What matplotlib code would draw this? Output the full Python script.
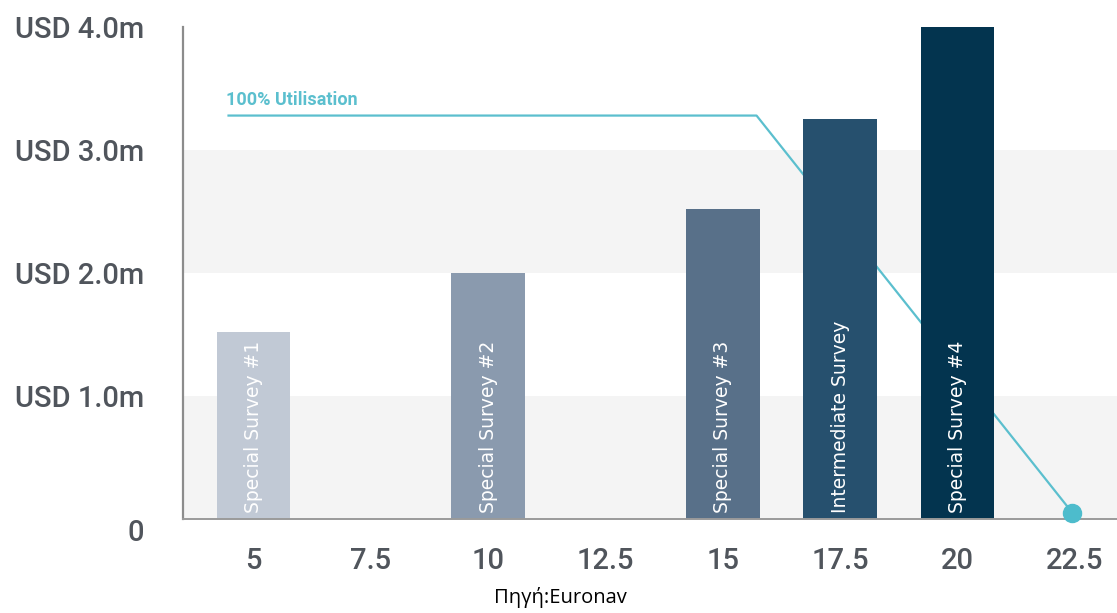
import matplotlib
matplotlib.use("Agg")
import matplotlib.pyplot as plt

# =========================
# DATA
# =========================
ages = [5, 10, 15, 17.5, 20]
costs = [1.52, 2.0, 2.52, 3.25, 4.0]
surveys = ["Special Survey #1", "Special Survey #2", "Special Survey #3",
           "Intermediate Survey", "Special Survey #4"]
bar_colors = ["#c1c9d5", "#8a9aae", "#587089", "#26506e", "#03344f"]

util_x = [4.47, 15.72, 22.45]
util_y = [3.28, 3.28, 0.05]

x_ticks = [5, 7.5, 10, 12.5, 15, 17.5, 20, 22.5]
y_ticks = [0, 1, 2, 3, 4]
y_labels = ["0", "USD 1.0m", "USD 2.0m", "USD 3.0m", "USD 4.0m"]

# =========================
# FIGURE
# =========================
fig = plt.figure(figsize=(11.17, 6.13), dpi=100)
ax = fig.add_axes([183 / 1117, 94 / 613, 1 - 183 / 1117, 492 / 613])

ax.set_xlim(3.5, 23.4)
ax.set_ylim(0, 4.0)

# light bands behind the bars
ax.axhspan(0, 1, color="#f4f4f4", zorder=0, lw=0)
ax.axhspan(2, 3, color="#f4f4f4", zorder=0, lw=0)

ax.bar(ages, costs, width=1.57, color=bar_colors, zorder=2)

for x, label in zip(ages, surveys):
    ax.text(x, 0.05, label, rotation=90, ha="center", va="bottom",
            color="white", fontsize=13.5,
            family=["Liberation Sans Narrow", "DejaVu Sans"], zorder=3)

# utilisation line runs behind the bars, end dot on top
ax.plot(util_x, util_y, color="#5bbfce", lw=1.6, zorder=1, clip_on=False)
ax.plot(util_x[-1], util_y[-1], "o", color="#4dbccc", ms=13, zorder=5,
        clip_on=False)
ax.text(util_x[0] - 0.05, util_y[0] + 0.05, "100% Utilisation",
        color="#5bbfce", fontsize=13, fontweight="bold", family="Roboto",
        ha="left", va="bottom")

# =========================
# AXES STYLE
# =========================
for side in ["top", "right"]:
    ax.spines[side].set_visible(False)
ax.spines["left"].set_color("#8c8c8c")
ax.spines["left"].set_linewidth(1.6)
ax.spines["bottom"].set_color("#9a9a9a")
ax.spines["bottom"].set_linewidth(1.4)

ax.set_xticks(x_ticks)
ax.set_xticklabels([f"{t:g}" for t in x_ticks])
ax.set_yticks(y_ticks)
ax.set_yticklabels(y_labels)
ax.tick_params(axis="both", length=0, colors="#50555c", labelsize=21)
ax.tick_params(axis="y", pad=28)
ax.tick_params(axis="x", pad=20)
for lab in ax.get_xticklabels() + ax.get_yticklabels():
    lab.set_family("Roboto")
    lab.set_fontweight("medium")
ax.get_yticklabels()[0].set_va("top")

fig.text(560 / 1117, 1 - 597 / 613, "Πηγή:Euronav", ha="center",
         va="center", fontsize=14.5, color="black", family="Open Sans")

fig.savefig("out.png", dpi=100)
